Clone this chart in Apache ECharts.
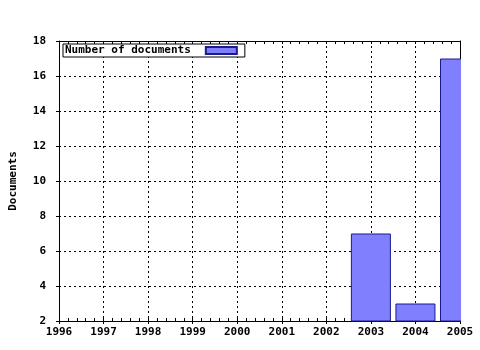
<!DOCTYPE html>
<html><head><meta charset="utf-8">
<script src="https://cdn.jsdelivr.net/npm/echarts@6/dist/echarts.min.js"></script>
<style>html,body{margin:0;padding:0;background:#fff}#c{width:480px;height:350px}</style>
</head><body><div id="c"></div>
<script>
var years = [2003, 2004, 2005];
var counts = [7, 3, 17];
var xTicks = [1996, 2005, 1];
var yTicks = [2, 18, 2];
var seriesName = 'Number of documents';
var yTitle = 'Documents';

var font = 'DejaVu Sans Mono';
var txt = {fontFamily: font, fontWeight: 'bold', fontSize: 11, color: '#000'};
var dotted = {color: '#000', width: 1, type: [2, 3]};
var chart = echarts.init(document.getElementById('c'), null, {renderer: 'canvas'});
function xBase(pos) {
  return {type: 'value', position: pos, min: xTicks[0], max: xTicks[1], interval: xTicks[2]};
}
chart.setOption({
  animation: false,
  backgroundColor: '#fff',
  grid: {left: 57, right: 20, top: 41, bottom: 29, containLabel: false},
  legend: {
    show: true, left: 63, top: 44, orient: 'horizontal',
    align: 'right',
    itemWidth: 31, itemHeight: 7,
    backgroundColor: '#fff', borderColor: '#000', borderWidth: 1,
    padding: [1, 7, 1, 2],
    textStyle: Object.assign({}, txt, {padding: [0, 10, 0, 0]}),
    data: [{name: seriesName, icon: 'rect'}]
  },
  graphic: [{
    type: 'rect', z: 100, silent: true,
    shape: {x: 461, y: 0, width: 19, height: 324},
    style: {fill: '#fff'}
  }],
  xAxis: [Object.assign(xBase('bottom'), {
    axisLine: {show: true, lineStyle: {color: '#000', width: 1}},
    axisTick: {show: true, length: 3, lineStyle: {color: '#000'}},
    minorTick: {show: false},
    splitLine: {show: true, lineStyle: dotted},
    axisLabel: Object.assign({}, txt, {margin: 6, formatter: function (v) { return String(v); }})
  }), Object.assign(xBase('top'), {
    axisLine: {show: true, lineStyle: {color: '#000', width: 1}},
    axisTick: {show: true, inside: true, length: 3, lineStyle: {color: '#000'}},
    minorTick: {show: true, splitNumber: 5, length: 3, lineStyle: {color: '#000'}},
    splitLine: {show: false},
    axisLabel: {show: false}
  }), Object.assign(xBase('bottom'), {
    axisLine: {show: false},
    axisTick: {show: true, inside: true, length: 3, lineStyle: {color: '#000'}},
    minorTick: {show: true, splitNumber: 5, length: 3, lineStyle: {color: '#000'}},
    splitLine: {show: false},
    axisLabel: {show: false}
  })],
  yAxis: [{
    type: 'value', position: 'left',
    min: yTicks[0], max: yTicks[1], interval: yTicks[2],
    name: yTitle, nameLocation: 'middle', nameGap: 40, nameRotate: 90,
    nameTextStyle: txt,
    axisLine: {show: true, lineStyle: {color: '#000', width: 1}},
    axisTick: {show: true, length: 3, lineStyle: {color: '#000'}},
    splitLine: {show: true, lineStyle: dotted},
    axisLabel: Object.assign({}, txt, {margin: 13})
  }, {
    type: 'value', position: 'right',
    min: yTicks[0], max: yTicks[1], interval: yTicks[2],
    axisLine: {show: true, lineStyle: {color: '#000', width: 1}},
    axisTick: {show: false}, splitLine: {show: false}, axisLabel: {show: false}
  }],
  series: [{
    name: seriesName, type: 'bar', xAxisIndex: 0, yAxisIndex: 0,
    barWidth: 40, clip: true,
    itemStyle: {color: '#8080ff', borderColor: '#1a1a8c', borderWidth: 1},
    data: years.map(function (y, i) { return [y, counts[i]]; })
  }]
});
</script></body></html>
